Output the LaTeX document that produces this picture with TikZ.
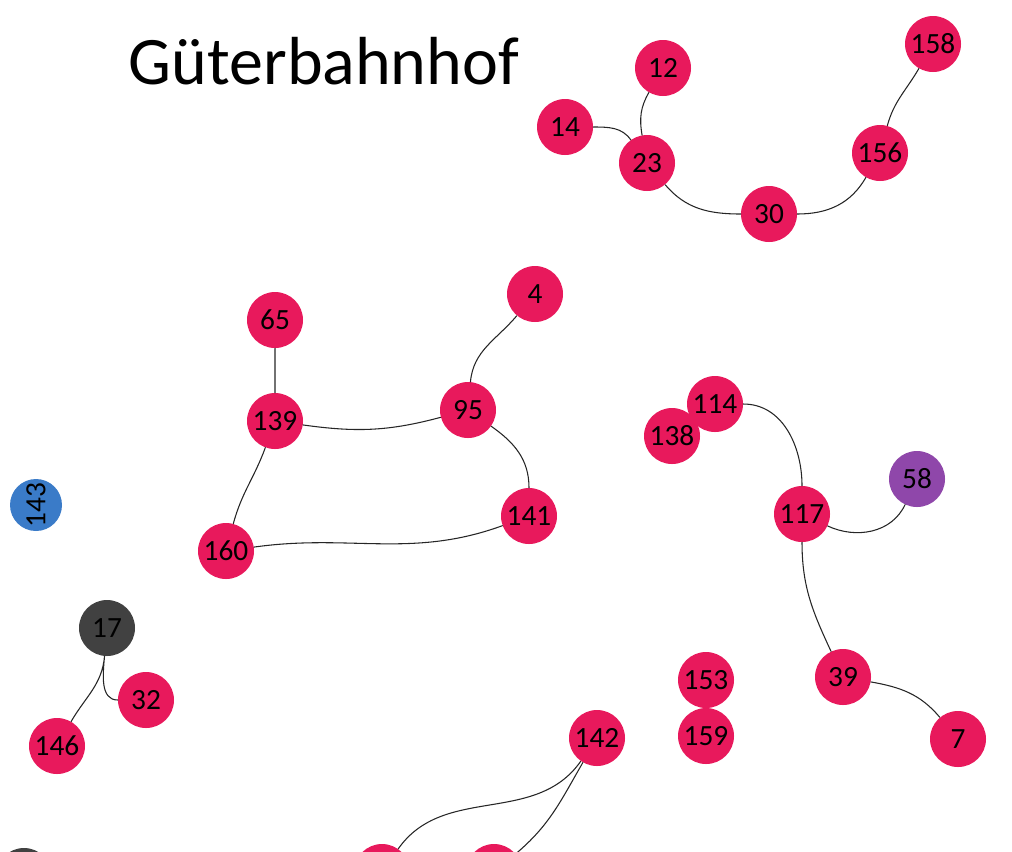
\documentclass[tikz,border=0pt]{standalone}
\usepackage{fontspec}
\setmainfont{Carlito}
\definecolor{rosa}{HTML}{E8195C}
\definecolor{blau}{HTML}{3A7BC8}
\definecolor{grau}{HTML}{414141}
\definecolor{lila}{HTML}{8F47AA}
\begin{document}
\begin{tikzpicture}[x=0.75pt, y=-0.75pt, line join=round, line cap=round,
  stn/.style={circle, fill=rosa, minimum size=42pt, inner sep=0pt, font=\fontsize{22}{22}\selectfont},
  gl/.style={draw=black!85, line width=0.8pt}]
\useasboundingbox (0,0) rectangle (1012,851);
\clip (0,0) rectangle (1012,851);
\node[anchor=base west, font=\fontsize{51}{51}\selectfont] (titel) at (124,84) {Güterbahnhof};
% nodes
\node[stn] (n12) at (663,68) {12};
\node[stn] (n14) at (565,127) {14};
\node[stn] (n23) at (647,163) {23};
\node[stn] (n30) at (769,214) {30};
\node[stn] (n156) at (880,153) {156};
\node[stn] (n158) at (933,44) {158};
\node[stn] (n65) at (275,320) {65};
\node[stn] (n4) at (535,294) {4};
\node[stn] (n139) at (275,421) {139};
\node[stn] (n95) at (468,410) {95};
\node[stn] (n141) at (529,516) {141};
\node[stn] (n160) at (226,551) {160};
\node[stn, fill=blau, minimum size=39pt, rotate=90] (n143) at (36,505) {143};
\node[stn] (n138) at (672,436) {138};
\node[stn] (n114) at (715,404) {114};
\node[stn] (n117) at (802,514) {117};
\node[stn, fill=lila] (n58) at (917,479) {58};
\node[stn, fill=grau] (n17) at (107,628) {17};
\node[stn] (n32) at (146,700) {32};
\node[stn] (n146) at (57,746) {146};
\node[stn] (n39) at (843,677) {39};
\node[stn] (n7) at (958,739) {7};
\node[stn] (n153) at (706,680) {153};
\node[stn] (n159) at (706,736) {159};
\node[stn] (n142) at (597,738) {142};
\node[stn] (nu1) at (382,872) {};
\node[stn] (nu2) at (494,872) {};
\node[stn, fill=grau] (nu3) at (24,876) {};
% edges
\draw[gl] (n12) to[out=240, in=100] (n23)
  (n14) to[out=0, in=125] (n23)
  (n23) to[out=-50, in=180] (n30)
  (n30) to[out=0, in=240] (n156)
  (n156) to[out=75, in=240] (n158)
  (n65) -- (n139)
  (n4) to[out=230, in=85] (n95)
  (n139) to[out=-8, in=195] (n95)
  (n95) to[out=-35, in=90] (n141)
  (n139) to[out=250, in=75] (n160)
  (n160) to[out=8, in=200] (n141)
  (n114) to[out=0, in=90] (n117)
  (n117) to[out=-25, in=245] (n58)
  (n117) to[out=-90, in=115] (n39)
  (n39) to[out=-10, in=130] (n7)
  (n17) to[out=-95, in=180] (n32)
  (n17) to[out=-95, in=60] (n146)
  (n142) to[out=235, in=55] (nu1)
  (n142) to[out=240, in=40] (nu2);
\end{tikzpicture}
\end{document}
